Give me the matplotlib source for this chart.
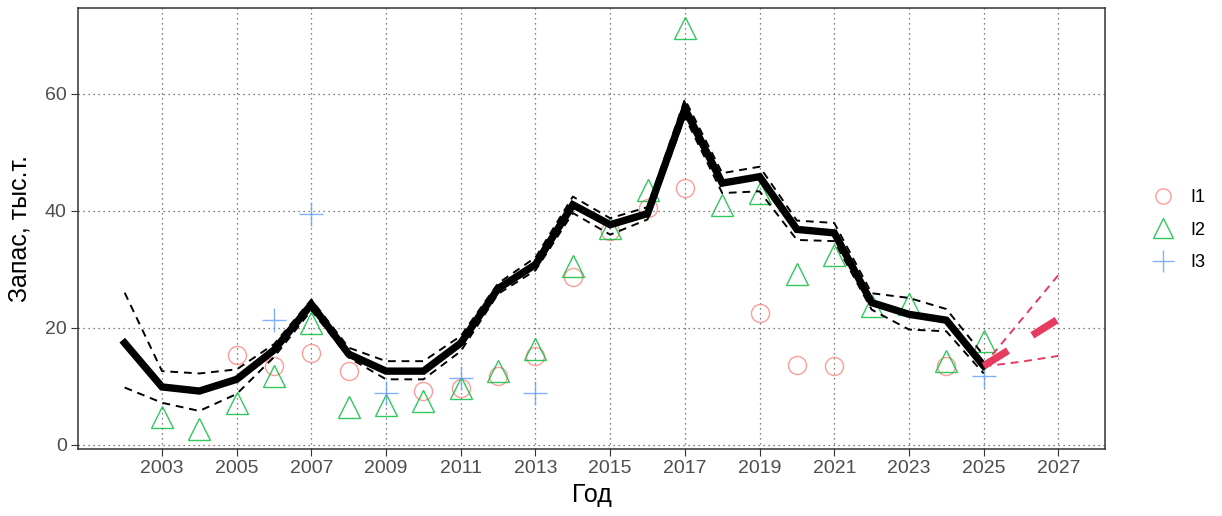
import matplotlib
matplotlib.use("Agg")
import matplotlib.pyplot as plt
from matplotlib.lines import Line2D

plt.rcParams["font.family"] = ["Liberation Sans", "DejaVu Sans"]

years = list(range(2002, 2026))
stock = [17.4, 9.9, 9.2, 11.2, 16.2, 24.0, 15.5, 12.6, 12.6, 17.4, 26.7, 30.8,
         41.0, 37.6, 39.5, 57.4, 44.7, 45.8, 36.8, 36.2, 24.3, 22.3, 21.3, 13.5]
upper = [26.0, 12.6, 12.2, 12.9, 17.2, 24.8, 16.6, 14.3, 14.3, 18.6, 27.6, 32.0,
         42.4, 38.7, 40.6, 59.0, 46.4, 47.5, 38.3, 37.9, 25.9, 25.1, 23.2, 15.3]
lower = [9.8, 7.2, 5.8, 8.7, 15.0, 23.0, 14.9, 11.2, 11.2, 16.0, 25.8, 29.8,
         39.6, 35.9, 38.5, 56.0, 43.0, 43.3, 35.0, 34.8, 23.1, 19.7, 19.4, 12.2]

fc_years = [2025, 2026, 2027]
fc_mid = [13.5, 17.5, 21.5]
fc_up = [13.6, 21.3, 29.0]
fc_lo = [13.4, 14.2, 15.2]

i1_years = [2005, 2006, 2007, 2008, 2010, 2011, 2012, 2013, 2014, 2015, 2016, 2017,
            2019, 2020, 2021, 2024]
i1_vals = [15.3, 13.5, 15.7, 12.6, 9.2, 9.8, 11.8, 15.2, 28.7, 36.6, 40.4, 43.8,
           22.5, 13.7, 13.5, 13.5]
i2_years = list(range(2003, 2026))
i2_vals = [4.7, 2.7, 7.2, 11.8, 20.8, 6.4, 6.9, 7.5, 9.8, 12.6, 16.3, 30.5,
           37.0, 43.6, 71.2, 41.0, 43.0, 29.1, 32.5, 23.7, 24.0, 14.3, 17.7]
i3_years = [2006, 2007, 2009, 2011, 2013, 2025]
i3_vals = [21.4, 39.4, 8.9, 11.5, 8.9, 11.8]

xticks = list(range(2003, 2028, 2))
yticks = [0, 20, 40, 60]

c1, c2, c3 = "#F8766D", "#00BA38", "#619CFF"
red = "#E63B5E"

fig = plt.figure(figsize=(12.22, 5.16), dpi=100)
ax = fig.add_axes([0.0638, 0.1298, 0.9043 - 0.0638, 0.9845 - 0.1298])

for x in xticks:
    ax.axvline(x, color="#555555", ls=(0, (1, 3)), lw=0.9, zorder=0)
for y in yticks:
    ax.axhline(y, color="#555555", ls=(0, (1, 3)), lw=0.9, zorder=0)

ax.plot(i1_years, i1_vals, ls="none", marker="o", ms=13, mfc="none", mec=c1, mew=1.0, alpha=0.7, zorder=2)
ax.plot(i2_years, i2_vals, ls="none", marker="^", ms=16, mfc="none", mec=c2, mew=1.0, alpha=0.8, zorder=2)
ax.plot(i3_years, i3_vals, ls="none", marker="+", ms=17, mec=c3, mew=1.0, alpha=0.8, zorder=2)

ax.plot(years, stock, color="black", lw=5.3, solid_joinstyle="miter", zorder=4)
ax.plot(years, upper, color="black", lw=1.4, ls=(0, (4, 3)), zorder=5)
ax.plot(years, lower, color="black", lw=1.4, ls=(0, (4, 3)), zorder=5)

ax.plot(fc_years, fc_mid, color=red, lw=5.3, ls=(0, (3.9, 3.9)), dash_capstyle="butt", zorder=5)
ax.plot(fc_years, fc_up, color=red, lw=1.4, ls=(0, (4, 3)), zorder=5)
ax.plot(fc_years, fc_lo, color=red, lw=1.4, ls=(0, (4, 3)), zorder=5)

ax.set_xlim(2000.75, 2028.25)
ax.set_ylim(-0.7, 74.6)
ax.set_xticks(xticks)
ax.set_yticks(yticks)
ax.tick_params(axis="both", labelsize=14, color="#333333", length=5, labelcolor="#4D4D4D", pad=3)
for s in ax.spines.values():
    s.set_color("#333333")
    s.set_linewidth(1.1)

ax.set_xlabel("Год", fontsize=18, labelpad=4)
ax.set_ylabel("Запас, тыс.т.", fontsize=18, labelpad=10)

handles = [
    Line2D([], [], ls="none", marker="o", ms=11, mfc="none", mec=c1, alpha=0.7),
    Line2D([], [], ls="none", marker="^", ms=15, mfc="none", mec=c2, alpha=0.8),
    Line2D([], [], ls="none", marker="+", ms=16, mec=c3, alpha=0.8),
]
fig.legend(handles, ["I1", "I2", "I3"], loc="center left", bbox_to_anchor=(0.9284, 0.554),
           frameon=False, fontsize=13, handlelength=1.4, handletextpad=0.8, labelspacing=0.85)

fig.savefig("out.png", dpi=100)
